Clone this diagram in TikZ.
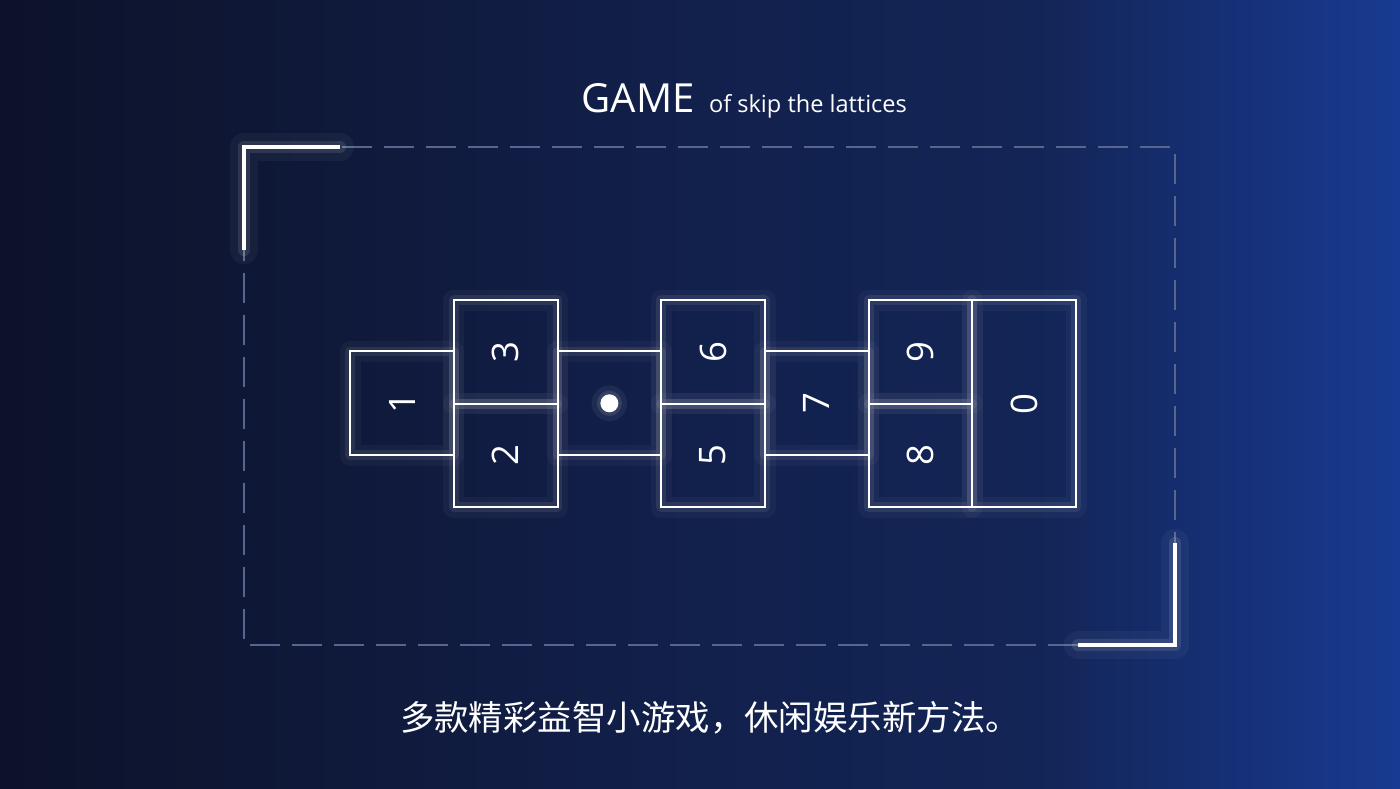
\documentclass[tikz,border=0pt]{standalone}
\usepackage{fontspec}
\setmainfont{Open Sans}
\newfontfamily\cjkfont{Noto Sans CJK SC}
\usetikzlibrary{positioning}
\definecolor{bgleft}{HTML}{0C1229}
\definecolor{bgmid}{HTML}{12204C}
\definecolor{bgmid2}{HTML}{132556}
\definecolor{bgright}{HTML}{183A92}
\definecolor{dashgray}{HTML}{56668E}
\pgfdeclarehorizontalshading{bgshade}{100bp}{color(0bp)=(bgleft); color(25bp)=(bgleft); color(50bp)=(bgmid); color(62bp)=(bgmid2); color(75bp)=(bgright); color(100bp)=(bgright)}

\begin{document}
\begin{tikzpicture}[
 cell/.style={draw=white,line width=0.6pt,minimum width=1.037cm,minimum height=1.037cm,inner sep=0pt,
  text=white,font=\fontsize{10.4}{12}\selectfont,rotate=90,
  preaction={draw=white,draw opacity=0.035,line width=6pt,line join=round},
  preaction={draw=white,draw opacity=0.08,line width=2.8pt,line join=round}},
 bracket/.style={draw=white,line width=1.2pt,
  preaction={draw=white,draw opacity=0.04,line width=8pt,line join=round,line cap=round},
  preaction={draw=white,draw opacity=0.10,line width=3.5pt,line join=round,line cap=round}},
 frame/.style={draw=dashgray,line width=0.6pt,dash pattern=on 0.30cm off 0.12cm},
]
% background
\shade[shading=bgshade] (0,0) rectangle (14,7.88);
\useasboundingbox (0,0) rectangle (14,7.88);

% title
\node[text=white,anchor=base west,inner sep=0pt,font=\fontsize{11.4}{13}\selectfont] (game) at (5.81,6.75) {GAME};
\node[text=white,inner sep=0pt,font=\fontsize{6.7}{8}\selectfont,base right=0.13cm of game] (sub) {of skip the lattices};

% dashed frame and corners
\coordinate (ftl) at (2.44,6.41);
\coordinate (fbr) at (11.75,1.43);
\draw[frame] (ftl) rectangle (fbr);
\draw[bracket] (2.44,5.38) -- (ftl) -- (3.40,6.41);
\draw[bracket] (11.75,2.45) -- (fbr) -- (10.78,1.43);

% lattices
\node[cell] (c1) at (4.020,3.847) {1};
\node[cell] (c3) at (5.057,4.360) {3};
\node[cell] (c2) at (5.057,3.325) {2};
\node[cell] (cm) at (6.094,3.847) {};
\node[cell] (c6) at (7.131,4.360) {6};
\node[cell] (c5) at (7.131,3.325) {5};
\node[cell] (c7) at (8.168,3.847) {7};
\node[cell] (c9) at (9.205,4.360) {9};
\node[cell] (c8) at (9.205,3.325) {8};
\node[cell,minimum width=2.07cm] (c0) at (10.242,3.843) {0};
\node[circle,fill=white,minimum size=0.18cm,inner sep=0pt,
  preaction={draw=white,draw opacity=0.06,line width=5pt},
  preaction={draw=white,draw opacity=0.10,line width=2pt}] (dot) at (cm.center) {};

% slogan
\node[text=white,font=\cjkfont\fontsize{9.8}{12}\selectfont] (slogan) at (7.10,0.70) {多款精彩益智小游戏，休闲娱乐新方法。};
\end{tikzpicture}
\end{document}
